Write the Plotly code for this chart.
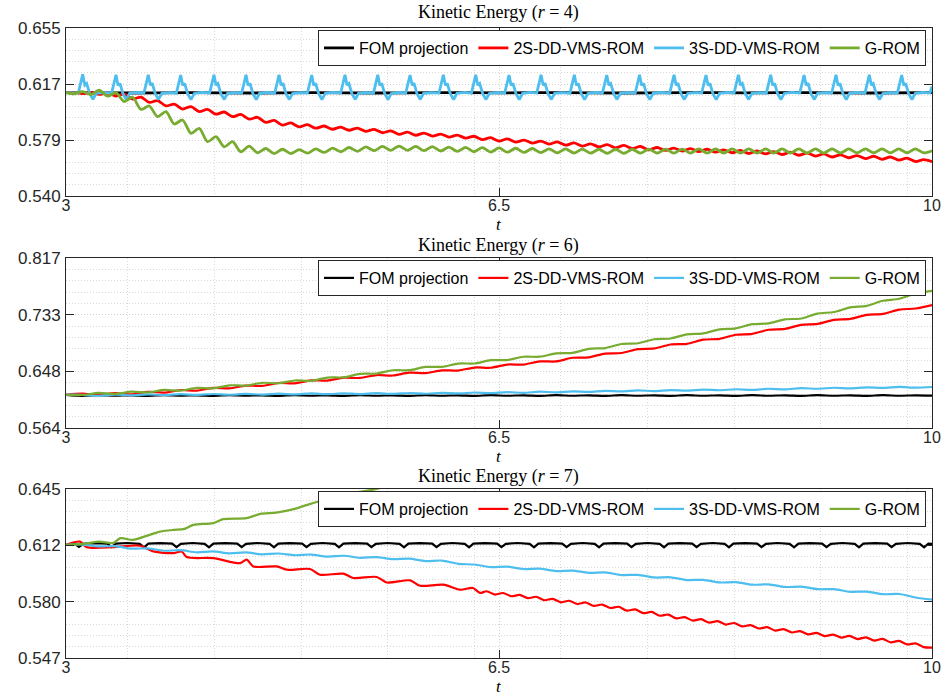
import plotly.graph_objects as go

# ---------------- ticks / labels ----------------
x_ticks = [3, 6.5, 10]
x_tick_text = ["3", "6.5", "10"]
x_minor = [3.5, 4.2, 4.9, 5.6, 6.3, 7.0, 7.7, 8.4, 9.1, 9.8]
x_label = "<i>t</i>"

y_range_r4 = [0.540, 0.655]
y_text_r4 = ["0.540", "0.579", "0.617", "0.655"]
y_range_r6 = [0.564, 0.817]
y_text_r6 = ["0.564", "0.648", "0.733", "0.817"]
y_range_r7 = [0.547, 0.645]
y_text_r7 = ["0.547", "0.580", "0.612", "0.645"]

titles = ["Kinetic Energy (<i>r</i> = 4)", "Kinetic Energy (<i>r</i> = 6)", "Kinetic Energy (<i>r</i> = 7)"]
names = ["FOM projection", "2S-DD-VMS-ROM", "3S-DD-VMS-ROM", "G-ROM"]

# ---------------- r = 4 ----------------
fom_r4 = [(3.0,.6107),(3.5,.6105),(4.0,.6108),(4.5,.6105),(5.0,.6108),(5.5,.6105),(6.0,.6108),
          (6.5,.6106),(7.0,.6108),(7.5,.6105),(8.0,.6108),(8.5,.6106),(9.0,.6108),(9.5,.6105),(10.0,.6107)]

s2_r4 = [(3.000,.6107),(3.067,.6109),(3.135,.6101),(3.202,.6109),(3.269,.6095),(3.337,.6106),(3.404,.6084),
 (3.471,.6098),(3.538,.6064),(3.606,.6077),(3.673,.6041),(3.740,.6053),(3.808,.6017),(3.875,.6029),(3.942,.5995),
 (4.010,.6012),(4.077,.5978),(4.144,.5993),(4.212,.5960),(4.279,.5975),(4.346,.5943),(4.413,.5958),(4.481,.5926),
 (4.548,.5939),(4.615,.5904),(4.683,.5917),(4.750,.5885),(4.817,.5900),(4.885,.5873),(4.952,.5888),(5.019,.5864),
 (5.087,.5879),(5.154,.5857),(5.221,.5872),(5.288,.5850),(5.356,.5865),(5.423,.5843),(5.490,.5856),(5.558,.5833),
 (5.625,.5846),(5.692,.5822),(5.760,.5837),(5.827,.5816),(5.894,.5831),(5.962,.5810),(6.029,.5824),(6.096,.5803),
 (6.163,.5817),(6.231,.5796),(6.298,.5809),(6.365,.5786),(6.433,.5799),(6.500,.5776),(6.567,.5791),(6.635,.5769),
 (6.702,.5783),(6.769,.5762),(6.837,.5776),(6.904,.5755),(6.971,.5770),(7.038,.5748),(7.106,.5763),(7.173,.5742),
 (7.240,.5757),(7.308,.5736),(7.375,.5751),(7.442,.5730),(7.510,.5746),(7.577,.5725),(7.644,.5739),(7.712,.5716),
 (7.779,.5732),(7.846,.5712),(7.913,.5728),(7.981,.5708),(8.048,.5724),(8.115,.5704),(8.183,.5720),(8.250,.5700),
 (8.317,.5716),(8.385,.5696),(8.452,.5712),(8.519,.5691),(8.587,.5708),(8.654,.5688),(8.721,.5704),(8.788,.5684),
 (8.856,.5700),(8.923,.5679),(8.990,.5694),(9.058,.5673),(9.125,.5688),(9.192,.5667),(9.260,.5682),(9.327,.5662),
 (9.394,.5677),(9.462,.5656),(9.529,.5672),(9.596,.5651),(9.663,.5667),(9.731,.5646),(9.798,.5659),(9.865,.5636),
 (9.933,.5649),(10.000,.5635)]

s3_r4 = [(3.000,.6107),
 (3.100,.6106),(3.135,.6233),(3.152,.6159),(3.167,.6170),(3.191,.6102),(3.218,.6062),(3.245,.6104),(3.305,.6108),
 (3.369,.6105),(3.404,.6229),(3.421,.6157),(3.436,.6171),(3.460,.6101),(3.487,.6060),(3.514,.6103),(3.574,.6109),
 (3.630,.6105),(3.665,.6230),(3.682,.6158),(3.697,.6172),(3.721,.6100),(3.748,.6061),(3.775,.6103),(3.835,.6108),
 (3.892,.6104),(3.927,.6228),(3.944,.6157),(3.959,.6171),(3.983,.6101),(4.010,.6060),(4.037,.6102),(4.097,.6109),
 (4.161,.6105),(4.196,.6229),(4.213,.6158),(4.228,.6170),(4.252,.6101),(4.279,.6061),(4.306,.6103),(4.366,.6108),
 (4.420,.6105),(4.455,.6230),(4.472,.6157),(4.487,.6171),(4.511,.6100),(4.538,.6060),(4.565,.6103),(4.625,.6109),
 (4.687,.6104),(4.722,.6229),(4.739,.6158),(4.754,.6172),(4.778,.6101),(4.805,.6061),(4.832,.6102),(4.892,.6108),
 (4.951,.6105),(4.986,.6228),(5.003,.6157),(5.018,.6171),(5.042,.6101),(5.069,.6060),(5.096,.6103),(5.156,.6109),
 (5.220,.6105),(5.255,.6230),(5.272,.6158),(5.287,.6170),(5.311,.6100),(5.338,.6061),(5.365,.6103),(5.425,.6108),
 (5.485,.6104),(5.520,.6229),(5.537,.6157),(5.552,.6171),(5.576,.6101),(5.603,.6060),(5.630,.6102),(5.690,.6109),
 (5.746,.6105),(5.781,.6228),(5.798,.6158),(5.813,.6172),(5.837,.6101),(5.864,.6061),(5.891,.6103),(5.951,.6108),
 (6.015,.6105),(6.050,.6230),(6.067,.6157),(6.082,.6171),(6.106,.6100),(6.133,.6060),(6.160,.6103),(6.220,.6109),
 (6.277,.6104),(6.312,.6229),(6.329,.6158),(6.344,.6170),(6.368,.6101),(6.395,.6061),(6.422,.6102),(6.482,.6108),
 (6.546,.6105),(6.581,.6228),(6.598,.6157),(6.613,.6171),(6.637,.6101),(6.664,.6060),(6.691,.6103),(6.751,.6109),
 (6.805,.6105),(6.840,.6230),(6.857,.6158),(6.872,.6172),(6.896,.6100),(6.923,.6061),(6.950,.6103),(7.010,.6108),
 (7.074,.6104),(7.109,.6229),(7.126,.6157),(7.141,.6171),(7.165,.6101),(7.192,.6060),(7.219,.6102),(7.279,.6109),
 (7.336,.6105),(7.371,.6228),(7.388,.6158),(7.403,.6170),(7.427,.6101),(7.454,.6061),(7.481,.6103),(7.541,.6108),
 (7.601,.6105),(7.636,.6230),(7.653,.6157),(7.668,.6171),(7.692,.6100),(7.719,.6060),(7.746,.6103),(7.806,.6109),
 (7.880,.6104),(7.915,.6229),(7.932,.6158),(7.947,.6172),(7.971,.6101),(7.998,.6061),(8.025,.6102),(8.085,.6108),
 (8.138,.6105),(8.173,.6228),(8.190,.6157),(8.205,.6171),(8.229,.6101),(8.256,.6060),(8.283,.6103),(8.343,.6109),
 (8.400,.6105),(8.435,.6230),(8.452,.6158),(8.467,.6170),(8.491,.6100),(8.518,.6061),(8.545,.6103),(8.605,.6108),
 (8.661,.6104),(8.696,.6229),(8.713,.6157),(8.728,.6171),(8.752,.6101),(8.779,.6060),(8.806,.6102),(8.866,.6109),
 (8.931,.6105),(8.966,.6228),(8.983,.6158),(8.998,.6172),(9.022,.6101),(9.049,.6061),(9.076,.6103),(9.136,.6108),
 (9.189,.6105),(9.224,.6230),(9.241,.6157),(9.256,.6171),(9.280,.6100),(9.307,.6060),(9.334,.6103),(9.394,.6109),
 (9.458,.6104),(9.493,.6229),(9.510,.6158),(9.525,.6170),(9.549,.6101),(9.576,.6061),(9.603,.6102),(9.663,.6108),
 (9.720,.6105),(9.755,.6228),(9.772,.6157),(9.787,.6171),(9.811,.6101),(9.838,.6060),(9.865,.6103),(9.925,.6109),
 (9.983,.6105),(10.000,.6150)]

g_r4 = [(3.000,.6107),(3.067,.6100),(3.135,.6115),(3.202,.6094),(3.269,.6124),(3.337,.6083),(3.404,.6107),
 (3.471,.6046),(3.538,.6076),(3.606,.5993),(3.673,.6016),(3.740,.5943),(3.808,.5977),(3.875,.5893),(3.942,.5920),
 (4.010,.5829),(4.077,.5863),(4.144,.5772),(4.212,.5806),(4.279,.5737),(4.346,.5772),(4.413,.5703),(4.481,.5742),
 (4.548,.5696),(4.615,.5725),(4.683,.5690),(4.750,.5720),(4.817,.5690),(4.885,.5718),(4.952,.5693),(5.019,.5722),
 (5.087,.5698),(5.154,.5728),(5.221,.5703),(5.288,.5732),(5.356,.5706),(5.423,.5736),(5.490,.5710),(5.558,.5740),
 (5.625,.5712),(5.692,.5742),(5.760,.5712),(5.827,.5740),(5.894,.5710),(5.962,.5738),(6.029,.5708),(6.096,.5735),
 (6.163,.5705),(6.231,.5733),(6.298,.5703),(6.365,.5731),(6.433,.5701),(6.500,.5729),(6.567,.5700),(6.635,.5727),
 (6.702,.5698),(6.769,.5725),(6.837,.5697),(6.904,.5723),(6.971,.5695),(7.038,.5722),(7.106,.5694),(7.173,.5721),
 (7.240,.5693),(7.308,.5720),(7.375,.5692),(7.442,.5720),(7.510,.5692),(7.577,.5720),(7.644,.5693),(7.712,.5721),
 (7.779,.5693),(7.846,.5721),(7.913,.5693),(7.981,.5721),(8.048,.5694),(8.115,.5722),(8.183,.5694),(8.250,.5722),
 (8.317,.5694),(8.385,.5722),(8.452,.5694),(8.519,.5722),(8.587,.5694),(8.654,.5722),(8.721,.5694),(8.788,.5722),
 (8.856,.5694),(8.923,.5722),(8.990,.5694),(9.058,.5722),(9.125,.5694),(9.192,.5722),(9.260,.5694),(9.327,.5722),
 (9.394,.5695),(9.462,.5723),(9.529,.5695),(9.596,.5723),(9.663,.5695),(9.731,.5723),(9.798,.5695),(9.865,.5723),
 (9.933,.5695),(10.000,.5710)]

# ---------------- r = 6 ----------------
fom_r6 = [(3.000,.6133),(3.132,.6119),(3.264,.6128),(3.396,.6120),(3.528,.6127),(3.660,.6119),(3.792,.6128),
 (3.925,.6120),(4.057,.6127),(4.189,.6119),(4.321,.6128),(4.453,.6120),(4.585,.6127),(4.717,.6119),(4.849,.6128),
 (4.981,.6120),(5.113,.6127),(5.245,.6119),(5.377,.6128),(5.509,.6120),(5.642,.6127),(5.774,.6119),(5.906,.6128),
 (6.038,.6120),(6.170,.6127),(6.302,.6119),(6.434,.6128),(6.566,.6120),(6.698,.6127),(6.830,.6119),(6.962,.6128),
 (7.094,.6120),(7.226,.6127),(7.358,.6119),(7.491,.6128),(7.623,.6120),(7.755,.6127),(7.887,.6119),(8.019,.6128),
 (8.151,.6120),(8.283,.6127),(8.415,.6119),(8.547,.6128),(8.679,.6120),(8.811,.6127),(8.943,.6119),(9.075,.6128),
 (9.208,.6120),(9.340,.6127),(9.472,.6119),(9.604,.6128),(9.736,.6120),(9.868,.6127),(10.000,.6121)]

s2_r6 = [(3.000,.6135),(3.132,.6151),(3.264,.6131),(3.396,.6159),(3.528,.6141),(3.660,.6178),(3.792,.6167),
 (3.925,.6205),(4.057,.6195),(4.189,.6237),(4.321,.6230),(4.453,.6271),(4.585,.6266),(4.717,.6310),(4.849,.6305),
 (4.981,.6349),(5.113,.6345),(5.245,.6389),(5.377,.6385),(5.509,.6428),(5.642,.6421),(5.774,.6463),(5.906,.6456),
 (6.038,.6498),(6.170,.6495),(6.302,.6540),(6.434,.6537),(6.566,.6584),(6.698,.6584),(6.830,.6631),(6.962,.6631),
 (7.094,.6685),(7.226,.6692),(7.358,.6748),(7.491,.6756),(7.623,.6814),(7.755,.6824),(7.887,.6883),(8.019,.6893),
 (8.151,.6954),(8.283,.6967),(8.415,.7028),(8.547,.7041),(8.679,.7102),(8.811,.7115),(8.943,.7176),(9.075,.7189),
 (9.208,.7250),(9.340,.7263),(9.472,.7324),(9.604,.7339),(9.736,.7402),(9.868,.7418),(10.000,.7469)]

s3_r6 = [(3.000,.6135),(3.132,.6134),(3.264,.6120),(3.396,.6136),(3.528,.6126),(3.660,.6140),(3.792,.6129),
 (3.925,.6143),(4.057,.6132),(4.189,.6146),(4.321,.6135),(4.453,.6148),(4.585,.6137),(4.717,.6151),(4.849,.6140),
 (4.981,.6154),(5.113,.6143),(5.245,.6156),(5.377,.6145),(5.509,.6158),(5.642,.6147),(5.774,.6161),(5.906,.6150),
 (6.038,.6164),(6.170,.6154),(6.302,.6168),(6.434,.6158),(6.566,.6173),(6.698,.6164),(6.830,.6180),(6.962,.6171),
 (7.094,.6186),(7.226,.6177),(7.358,.6193),(7.491,.6184),(7.623,.6199),(7.755,.6190),(7.887,.6205),(8.019,.6196),
 (8.151,.6211),(8.283,.6202),(8.415,.6217),(8.547,.6208),(8.679,.6224),(8.811,.6216),(8.943,.6232),(9.075,.6224),
 (9.208,.6239),(9.340,.6230),(9.472,.6245),(9.604,.6236),(9.736,.6251),(9.868,.6241),(10.000,.6250)]

g_r6 = [(3.000,.6135),(3.132,.6131),(3.264,.6163),(3.396,.6147),(3.528,.6180),(3.660,.6169),(3.792,.6206),
 (3.925,.6196),(4.057,.6236),(4.189,.6231),(4.321,.6275),(4.453,.6271),(4.585,.6313),(4.717,.6306),(4.849,.6347),
 (4.981,.6341),(5.113,.6391),(5.245,.6394),(5.377,.6446),(5.509,.6450),(5.642,.6499),(5.774,.6500),(5.906,.6549),
 (6.038,.6550),(6.170,.6599),(6.302,.6600),(6.434,.6649),(6.566,.6651),(6.698,.6700),(6.830,.6701),(6.962,.6750),
 (7.094,.6758),(7.226,.6818),(7.358,.6830),(7.491,.6890),(7.623,.6901),(7.755,.6961),(7.887,.6972),(8.019,.7033),
 (8.151,.7047),(8.283,.7109),(8.415,.7123),(8.547,.7185),(8.679,.7197),(8.811,.7257),(8.943,.7269),(9.075,.7343),
 (9.208,.7366),(9.340,.7436),(9.472,.7458),(9.604,.7534),(9.736,.7563),(9.868,.7641),(10.000,.7682)]

# ---------------- r = 7 ----------------
fom_r7 = [(3.000,.6126),
 (3.070,.6132),(3.105,.6114),(3.140,.6132),(3.235,.6136),
 (3.333,.6133),(3.368,.6113),(3.403,.6133),(3.498,.6137),
 (3.596,.6132),(3.631,.6112),(3.666,.6133),(3.761,.6136),
 (3.858,.6133),(3.893,.6113),(3.928,.6132),(4.023,.6137),
 (4.121,.6132),(4.156,.6112),(4.191,.6133),(4.286,.6136),
 (4.385,.6133),(4.420,.6113),(4.455,.6132),(4.550,.6137),
 (4.646,.6132),(4.681,.6112),(4.716,.6133),(4.811,.6136),
 (4.909,.6133),(4.944,.6113),(4.979,.6132),(5.074,.6137),
 (5.172,.6132),(5.207,.6112),(5.242,.6133),(5.337,.6136),
 (5.434,.6133),(5.469,.6113),(5.504,.6132),(5.599,.6137),
 (5.697,.6132),(5.732,.6112),(5.767,.6133),(5.862,.6136),
 (5.960,.6133),(5.995,.6113),(6.030,.6132),(6.125,.6137),
 (6.223,.6132),(6.258,.6112),(6.293,.6133),(6.388,.6136),
 (6.485,.6133),(6.520,.6113),(6.555,.6132),(6.650,.6137),
 (6.748,.6132),(6.783,.6112),(6.818,.6133),(6.913,.6136),
 (7.011,.6133),(7.046,.6113),(7.081,.6132),(7.176,.6137),
 (7.274,.6132),(7.309,.6112),(7.344,.6133),(7.439,.6136),
 (7.536,.6133),(7.571,.6113),(7.606,.6132),(7.701,.6137),
 (7.799,.6132),(7.834,.6112),(7.869,.6133),(7.964,.6136),
 (8.062,.6133),(8.097,.6113),(8.132,.6132),(8.227,.6137),
 (8.324,.6132),(8.359,.6112),(8.394,.6133),(8.489,.6136),
 (8.587,.6133),(8.622,.6113),(8.657,.6132),(8.752,.6137),
 (8.850,.6132),(8.885,.6112),(8.920,.6133),(9.015,.6136),
 (9.112,.6133),(9.147,.6113),(9.182,.6132),(9.277,.6137),
 (9.375,.6132),(9.410,.6112),(9.445,.6133),(9.540,.6136),
 (9.638,.6133),(9.673,.6113),(9.708,.6132),(9.803,.6137),
 (9.901,.6132),(9.936,.6112),(9.971,.6133),(10.000,.6132)]

s2_r7 = [(3.000,.6126),(3.113,.6145),(3.167,.6113),(3.382,.6113),(3.598,.6121),(3.706,.6088),(3.867,.6078),
 (3.935,.6088),(3.976,.6055),(4.191,.6049),(4.407,.6020),(4.461,.6040),(4.514,.6001),(4.703,.6001),(4.784,.5982),
 (4.972,.5986),(5.053,.5953),(5.242,.5959),(5.322,.5934),(5.511,.5940),(5.592,.5908),(5.781,.5920),(5.862,.5889),
 (6.050,.5895),(6.185,.5866),(6.290,.5876),(6.347,.5847),
 (6.400,.5857),(6.467,.5838),(6.533,.5847),(6.600,.5828),(6.667,.5836),(6.733,.5817),(6.800,.5825),(6.867,.5805),
 (6.933,.5813),(7.000,.5793),(7.067,.5802),(7.133,.5783),(7.200,.5792),(7.267,.5772),(7.333,.5780),(7.400,.5760),
 (7.467,.5767),(7.533,.5745),(7.600,.5752),(7.667,.5730),(7.733,.5737),(7.800,.5715),(7.867,.5722),(7.933,.5700),
 (8.000,.5707),(8.067,.5687),(8.133,.5695),(8.200,.5675),(8.267,.5684),(8.333,.5664),(8.400,.5673),(8.467,.5653),
 (8.533,.5661),(8.600,.5641),(8.667,.5649),(8.733,.5629),(8.800,.5637),(8.867,.5618),(8.933,.5626),(9.000,.5607),
 (9.067,.5616),(9.133,.5597),(9.200,.5606),(9.267,.5588),(9.333,.5598),(9.400,.5580),(9.467,.5590),(9.533,.5571),
 (9.600,.5581),(9.667,.5561),(9.733,.5569),(9.800,.5549),(9.867,.5555),(9.933,.5533),(10.000,.5530)]

s3_r7 = [(3.000,.6126),(3.132,.6128),(3.264,.6117),(3.396,.6119),(3.528,.6104),(3.660,.6106),(3.792,.6092),
 (3.925,.6095),(4.057,.6083),(4.189,.6088),(4.321,.6077),(4.453,.6082),(4.585,.6071),(4.717,.6076),(4.849,.6066),
 (4.981,.6070),(5.113,.6058),(5.245,.6063),(5.377,.6051),(5.509,.6055),(5.642,.6043),(5.774,.6046),(5.906,.6032),
 (6.038,.6035),(6.170,.6016),(6.302,.6012),(6.434,.5997),(6.566,.6000),(6.698,.5986),(6.830,.5988),(6.962,.5974),
 (7.094,.5977),(7.226,.5964),(7.358,.5966),(7.491,.5951),(7.623,.5952),(7.755,.5937),(7.887,.5938),(8.019,.5922),
 (8.151,.5923),(8.283,.5908),(8.415,.5910),(8.547,.5895),(8.679,.5897),(8.811,.5882),(8.943,.5884),(9.075,.5869),
 (9.208,.5869),(9.340,.5854),(9.472,.5855),(9.604,.5840),(9.736,.5841),(9.868,.5821),(10.000,.5808)]

g_r7 = [(3.000,.6126),(3.140,.6132),(3.270,.6145),(3.380,.6136),(3.440,.6165),(3.540,.6155),(3.650,.6178),
 (3.760,.6203),(3.870,.6213),(3.950,.6217),(4.030,.6242),(4.190,.6252),(4.270,.6275),(4.460,.6281),(4.570,.6306),
 (4.700,.6313),(4.840,.6333),(4.950,.6358),(5.270,.6421),(5.510,.6450),(5.600,.6470)]

# ---------------- styling ----------------
colors = ["#000000", "#FF0000", "#4DBEEE", "#77AC30"]
AX = "#262626"
SANS = "Liberation Sans, Arial, sans-serif"
SERIF = "Liberation Serif, Times New Roman, serif"

X0, X1 = 66 / 948, 932 / 948
XC = (X0 + X1) / 2
H = 698
y_domains = [[1 - 196 / H, 1 - 28 / H], [1 - 428 / H, 1 - 258 / H], [1 - 658 / H, 1 - 489 / H]]
title_y = [1 - 13 / H, 1 - 245 / H, 1 - 476 / H]
xlabel_y = [1 - 224.5 / H, 1 - 456.5 / H, 1 - 686.5 / H]
legend_y = [1 - 30 / H, 1 - 260 / H, 1 - 491 / H]

panels = [
    (y_range_r4, y_text_r4, [fom_r4, s2_r4, s3_r4, g_r4], 2.8),
    (y_range_r6, y_text_r6, [fom_r6, s2_r6, s3_r6, g_r6], 2.2),
    (y_range_r7, y_text_r7, [fom_r7, s2_r7, s3_r7, g_r7], 2.2),
]
linear_series = {(0, 2), (2, 0)}

fig = go.Figure()
layout = dict(width=948, height=698, margin=dict(l=0, r=0, t=0, b=0), autosize=False,
              paper_bgcolor="white", plot_bgcolor="white", showlegend=True, annotations=[])

for i, (yr, ytxt, series, lw) in enumerate(panels):
    n = "" if i == 0 else str(i + 1)
    xa, ya, lg = "x" + n, "y" + n, "legend" + n
    for j, data in enumerate(series):
        ts, vs = zip(*data)
        wave = (i, j) not in linear_series
        fig.add_trace(go.Scatter(
            x=list(ts), y=list(vs), mode="lines", name=names[j],
            line=dict(color=colors[j], width=lw, shape="spline" if wave else "linear", smoothing=0.8),
            xaxis=xa, yaxis=ya, legend=lg, showlegend=True))
    step = (yr[1] - yr[0]) / 3
    yt = [yr[0] + k * step for k in range(4)]
    ymin = [yr[0] + k * step / 5 for k in range(16) if k % 5]
    layout["xaxis" + n] = dict(
        domain=[X0, X1], range=[3, 10], anchor=ya, tickmode="array", tickvals=x_ticks, ticktext=x_tick_text,
        ticks="inside", ticklen=8, tickcolor=AX, tickwidth=1, showline=True, linecolor=AX, linewidth=1,
        mirror="ticks", showgrid=True, gridcolor="#cfcfcf", griddash="1px,2px", zeroline=False,
        tickfont=dict(family=SANS, size=16, color=AX), ticklabelstandoff=-5,
        minor=dict(tickmode="array", tickvals=x_minor, showgrid=True, gridcolor="#d9d9d9",
                   griddash="1px,2px", ticks=""),
        automargin=False, fixedrange=True)
    layout["yaxis" + n] = dict(
        domain=y_domains[i], range=yr, anchor=xa, tickmode="array", tickvals=yt, ticktext=ytxt,
        ticks="inside", ticklen=8, tickcolor=AX, tickwidth=1, showline=True, linecolor=AX, linewidth=1,
        mirror="ticks", showgrid=True, gridcolor="#cfcfcf", griddash="1px,2px", zeroline=False,
        tickfont=dict(family=SANS, size=17, color=AX), ticklabelstandoff=1,
        minor=dict(tickmode="array", tickvals=ymin, showgrid=True, gridcolor="#d9d9d9",
                   griddash="1px,2px", ticks=""),
        automargin=False, fixedrange=True)
    layout[lg] = dict(x=926 / 948, xanchor="right", y=legend_y[i], yanchor="top", orientation="h",
                      bgcolor="white", bordercolor=AX, borderwidth=1,
                      font=dict(family=SANS, size=16, color="#000"), tracegroupgap=0, itemwidth=30)
    layout["annotations"].append(dict(text=titles[i], x=XC, y=title_y[i], xref="paper", yref="paper",
                                      xanchor="center", yanchor="middle", showarrow=False,
                                      font=dict(family=SERIF, size=18, color="#000")))
    layout["annotations"].append(dict(text=x_label, x=XC, y=xlabel_y[i], xref="paper", yref="paper",
                                      xanchor="center", yanchor="middle", showarrow=False,
                                      font=dict(family=SERIF, size=17, color="#000")))

fig.update_layout(**layout)
fig.write_html("out.html", config={"displayModeBar": False},
               post_script="document.body.style.margin='0';document.body.style.overflow='hidden';")
